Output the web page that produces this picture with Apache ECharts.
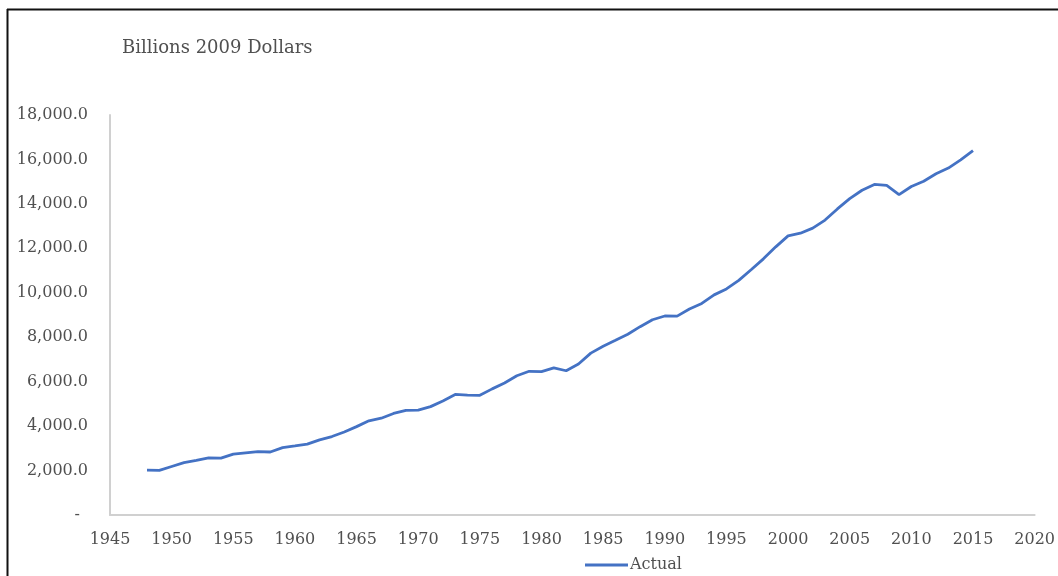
<!DOCTYPE html>
<html><head><meta charset="utf-8">
<script src="https://cdn.jsdelivr.net/npm/echarts@6/dist/echarts.min.js"></script>
<style>html,body{margin:0;padding:0;background:#fff;}#c{width:1058px;height:576px;}</style>
</head><body><div id="c"></div>
<script>
const years = [1948,1949,1950,1951,1952,1953,1954,1955,1956,1957,1958,1959,1960,1961,1962,1963,1964,1965,1966,1967,1968,1969,1970,1971,1972,1973,1974,1975,1976,1977,1978,1979,1980,1981,1982,1983,1984,1985,1986,1987,1988,1989,1990,1991,1992,1993,1994,1995,1996,1997,1998,1999,2000,2001,2002,2003,2004,2005,2006,2007,2008,2009,2010,2011,2012,2013,2014,2015];
const actual = [2020.0,2008.9,2184.0,2360.0,2456.1,2571.4,2556.9,2739.0,2797.4,2856.3,2835.3,3031.0,3108.7,3188.1,3383.1,3530.4,3734.0,3976.7,4238.0,4355.2,4569.0,4712.5,4722.0,4877.6,5134.3,5424.1,5396.0,5385.4,5675.4,5937.0,6267.2,6466.2,6450.4,6617.7,6491.3,6792.0,7285.0,7593.8,7860.5,8132.6,8474.5,8786.4,8955.0,8948.4,9266.6,9521.0,9905.4,10174.8,10561.0,11034.9,11525.9,12065.9,12559.7,12682.2,12908.8,13271.1,13773.5,14234.2,14613.8,14873.7,14830.4,14418.7,14783.8,15020.6,15354.6,15612.2,15982.3,16397.2];
const seriesName = 'Actual';
const titleText = 'Billions 2009 Dollars';

const font = '"DejaVu Serif", serif';
const chart = echarts.init(document.getElementById('c'));
chart.setOption({
  animation: false,
  backgroundColor: '#fff',
  title: { text: titleText, left: 117, top: 34, textStyle: { fontFamily: font, fontSize: 18, fontWeight: 'normal', color: '#505050' } },
  legend: { data: [seriesName], left: 580, top: 552, itemWidth: 43, itemHeight: 3, itemGap: 4, icon: 'rect',
    textStyle: { fontFamily: font, fontSize: 16, color: '#505050', padding: [0,0,0,-3] } },
  grid: { left: 110, right: 23, top: 115, bottom: 61 },
  xAxis: { type: 'value', min: 1945, max: 2020, interval: 5,
    axisLine: { show: true, lineStyle: { color: '#d0d0d0', width: 2 } },
    axisTick: { show: false }, splitLine: { show: false },
    axisLabel: { fontFamily: font, fontSize: 16, color: '#505050', margin: 17, formatter: v => String(v) } },
  yAxis: { type: 'value', min: 0, max: 18000, interval: 2000,
    axisLine: { show: true, lineStyle: { color: '#d0d0d0', width: 2 } },
    axisTick: { show: false }, splitLine: { show: false },
    axisLabel: { fontFamily: font, fontSize: 16, color: '#505050', margin: 22,
      formatter: v => v === 0 ? '-\u2002' : v.toLocaleString('en-US', { minimumFractionDigits: 1, maximumFractionDigits: 1 }) } },
  graphic: [
    { type: 'line', shape: { x1: 7, y1: 9.5, x2: 1058, y2: 9.5 }, style: { stroke: '#111', lineWidth: 2 } },
    { type: 'line', shape: { x1: 7.5, y1: 9, x2: 7.5, y2: 576 }, style: { stroke: '#111', lineWidth: 2 } }
  ],
  series: [{ name: seriesName, type: 'line', data: years.map((y, i) => [y, actual[i]]),
    showSymbol: false, symbol: 'none', lineStyle: { color: '#4472C4', width: 2.8 }, itemStyle: { color: '#4472C4' } }]
});
</script></body></html>
